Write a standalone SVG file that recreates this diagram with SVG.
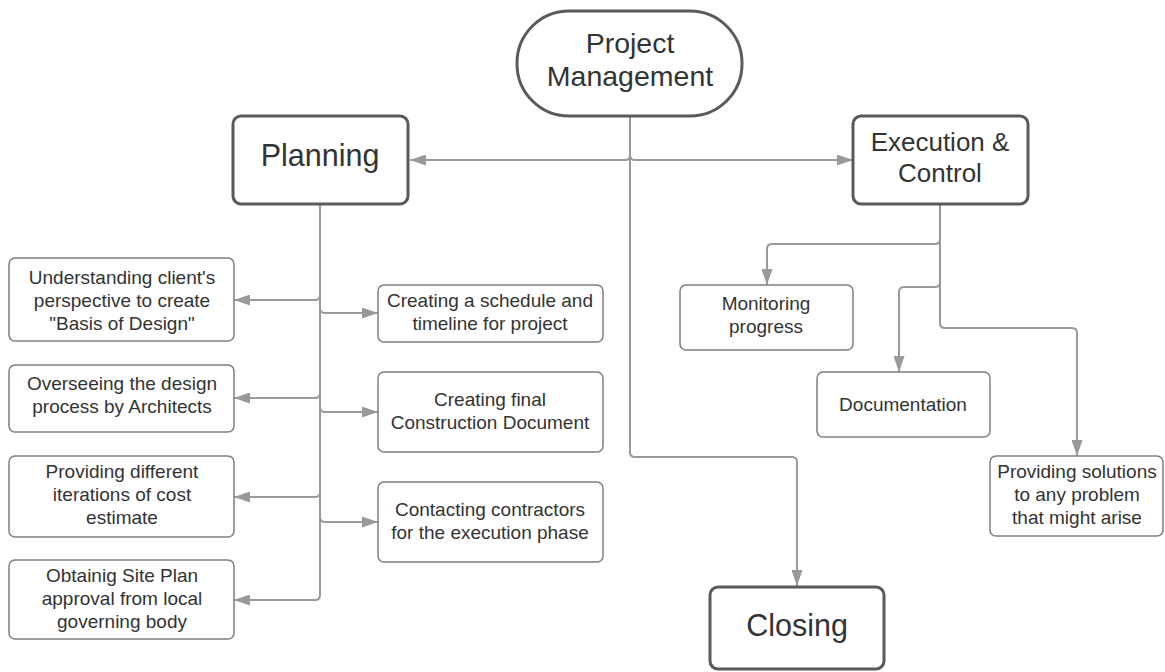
<svg xmlns="http://www.w3.org/2000/svg" width="1165" height="672" viewBox="0 0 1165 672">
  <style>
    .main { fill: #ffffff; stroke: #5a5a5a; stroke-width: 3; }
    .sub { fill: #ffffff; stroke: #7f7f7f; stroke-width: 1.5; }
    .t { font-family: "Liberation Sans", Arial, sans-serif; fill: #333333; text-anchor: middle; }
    .pm { font-size: 28.5px; }
    .big { font-size: 30.5px; }
    .mid { font-size: 26px; }
    .small { font-size: 19px; }
    .edge { fill: none; stroke: #999999; stroke-width: 2; marker-end: url(#arrow); }
  </style>
  <defs>
    <marker id="arrow" viewBox="0 0 16 11" refX="16" refY="5.5" markerWidth="16" markerHeight="11" markerUnits="userSpaceOnUse" orient="auto">
      <path d="M0,0 L16,5.5 L0,11 Z" fill="#999999"/>
    </marker>
  </defs>

  <rect width="1165" height="672" fill="#ffffff"/>

  <!-- connectors -->
  <g id="connectors">
    <path class="edge" d="M630,117 V155 Q630,160 625,160 H410"/>
    <path class="edge" d="M630,117 V155 Q630,160 635,160 H853"/>
    <path class="edge" d="M630,117 V452 Q630,457 635,457 H792 Q797,457 797,462 V586"/>

    <path class="edge" d="M320,204 V295 Q320,300 315,300 H234"/>
    <path class="edge" d="M320,204 V393 Q320,398 315,398 H234"/>
    <path class="edge" d="M320,204 V492 Q320,497 315,497 H234"/>
    <path class="edge" d="M320,204 V595 Q320,600 315,600 H234"/>
    <path class="edge" d="M320,204 V308 Q320,313 325,313 H378"/>
    <path class="edge" d="M320,204 V407 Q320,412 325,412 H378"/>
    <path class="edge" d="M320,204 V517 Q320,522 325,522 H378"/>

    <path class="edge" d="M940,204 V239 Q940,244 935,244 H772 Q767,244 767,249 V285"/>
    <path class="edge" d="M940,204 V282 Q940,287 935,287 H904 Q899,287 899,292 V372"/>
    <path class="edge" d="M940,204 V323 Q940,328 945,328 H1072 Q1077,328 1077,333 V456"/>
  </g>

  <!-- top-level node -->
  <g id="project-management">
    <rect class="main" x="517" y="11" width="225" height="105" rx="52" ry="52"/>
    <text class="t pm" x="630" y="53">Project</text>
    <text class="t pm" x="630" y="86">Management</text>
  </g>

  <!-- phase nodes -->
  <g id="planning">
    <rect class="main" x="233" y="116" width="175" height="88" rx="8" ry="8"/>
    <text class="t big" x="320" y="166">Planning</text>
  </g>
  <g id="execution-control">
    <rect class="main" x="853" y="116" width="175" height="88" rx="8" ry="8"/>
    <text class="t mid" x="940" y="151">Execution &amp;</text>
    <text class="t mid" x="940" y="182">Control</text>
  </g>
  <g id="closing">
    <rect class="main" x="710" y="587" width="174" height="82" rx="8" ry="8"/>
    <text class="t big" x="797" y="636">Closing</text>
  </g>

  <!-- planning tasks, left column -->
  <g id="basis-of-design">
    <rect class="sub" x="9" y="258" width="225" height="83" rx="6" ry="6"/>
    <text class="t small" x="122" y="284">Understanding client's</text>
    <text class="t small" x="122" y="307">perspective to create</text>
    <text class="t small" x="122" y="330">"Basis of Design"</text>
  </g>
  <g id="design-process">
    <rect class="sub" x="9" y="365" width="225" height="67" rx="6" ry="6"/>
    <text class="t small" x="122" y="390">Overseeing the design</text>
    <text class="t small" x="122" y="413">process by Architects</text>
  </g>
  <g id="cost-estimate">
    <rect class="sub" x="9" y="456" width="225" height="81" rx="6" ry="6"/>
    <text class="t small" x="122" y="478">Providing different</text>
    <text class="t small" x="122" y="501">iterations of cost</text>
    <text class="t small" x="122" y="524">estimate</text>
  </g>
  <g id="site-plan">
    <rect class="sub" x="9" y="560" width="225" height="79" rx="6" ry="6"/>
    <text class="t small" x="122" y="582">Obtainig Site Plan</text>
    <text class="t small" x="122" y="605">approval from local</text>
    <text class="t small" x="122" y="628">governing body</text>
  </g>

  <!-- planning tasks, right column -->
  <g id="schedule">
    <rect class="sub" x="378" y="285" width="225" height="57" rx="6" ry="6"/>
    <text class="t small" x="490" y="307">Creating a schedule and</text>
    <text class="t small" x="490" y="330">timeline for project</text>
  </g>
  <g id="construction-document">
    <rect class="sub" x="378" y="372" width="225" height="80" rx="6" ry="6"/>
    <text class="t small" x="490" y="406">Creating final</text>
    <text class="t small" x="490" y="429">Construction Document</text>
  </g>
  <g id="contractors">
    <rect class="sub" x="378" y="482" width="225" height="80" rx="6" ry="6"/>
    <text class="t small" x="490" y="516">Contacting contractors</text>
    <text class="t small" x="490" y="539">for the execution phase</text>
  </g>

  <!-- execution tasks -->
  <g id="monitoring">
    <rect class="sub" x="680" y="285" width="173" height="65" rx="6" ry="6"/>
    <text class="t small" x="766" y="310">Monitoring</text>
    <text class="t small" x="766" y="333">progress</text>
  </g>
  <g id="documentation">
    <rect class="sub" x="817" y="372" width="173" height="65" rx="6" ry="6"/>
    <text class="t small" x="903" y="411">Documentation</text>
  </g>
  <g id="solutions">
    <rect class="sub" x="990" y="456" width="173" height="80" rx="6" ry="6"/>
    <text class="t small" x="1077" y="478">Providing solutions</text>
    <text class="t small" x="1077" y="501">to any problem</text>
    <text class="t small" x="1077" y="524">that might arise</text>
  </g>
</svg>
